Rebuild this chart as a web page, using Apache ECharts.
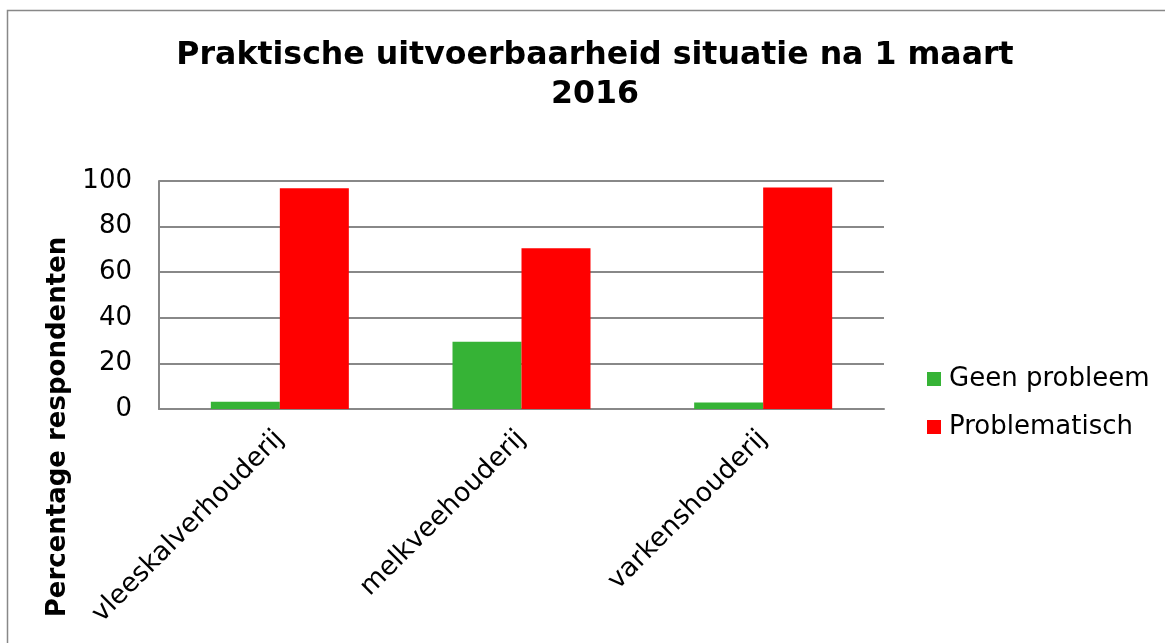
<!DOCTYPE html>
<html lang="nl">
<head>
    <meta charset="utf-8">
    <title>Praktische uitvoerbaarheid situatie na 1 maart 2016</title>
    <script src="https://cdn.jsdelivr.net/npm/echarts@6/dist/echarts.min.js"></script>
    <style>
        html, body { margin: 0; padding: 0; background: #fff; }
        #main { width: 1165px; height: 643px; }
    </style>
</head>
<body>
    <div id="main"></div>
    <script type="text/javascript">
        // data
        var categories = ['vleeskalverhouderij', 'melkveehouderij', 'varkenshouderij'];
        var geenProbleem = [3.2, 29.5, 2.9];
        var problematisch = [96.8, 70.5, 97.1];
        var seriesNames = ['Geen probleem', 'Problematisch'];

        var font = '"DejaVu Sans", Verdana, sans-serif';
        var myChart = echarts.init(document.getElementById('main'));

        myChart.setOption({
            animation: false,
            textStyle: { fontFamily: font },
            title: {
                text: 'Praktische uitvoerbaarheid situatie na 1 maart\n2016',
                left: 590,
                top: 31,
                textAlign: 'center',
                textStyle: {
                    fontFamily: font,
                    fontSize: 31.6,
                    fontWeight: 'bold',
                    color: '#000',
                    lineHeight: 39
                }
            },
            graphic: [{
                type: 'rect',
                shape: { x: 7.5, y: 10.5, width: 1180, height: 660 },
                style: { fill: 'none', stroke: '#888', lineWidth: 1.5 },
                silent: true
            }],
            legend: {
                orient: 'vertical',
                left: 927,
                top: 366,
                padding: 0,
                itemWidth: 14,
                itemHeight: 14,
                itemGap: 22,
                icon: 'rect',
                data: seriesNames,
                textStyle: { fontFamily: font, fontSize: 26, color: '#000', padding: [0, 0, 0, 3] }
            },
            grid: { left: 159, right: 281, top: 181, bottom: 234, containLabel: false },
            xAxis: {
                type: 'category',
                data: categories,
                axisLine: { lineStyle: { color: '#888', width: 2 } },
                axisTick: { show: false },
                axisLabel: {
                    rotate: 45,
                    margin: 26,
                    fontFamily: font,
                    fontSize: 26.5,
                    color: '#000'
                }
            },
            yAxis: {
                type: 'value',
                min: 0,
                max: 100,
                interval: 20,
                name: 'Percentage respondenten',
                nameLocation: 'middle',
                nameGap: 78,
                nameTextStyle: {
                    fontFamily: font,
                    fontSize: 26,
                    fontWeight: 'bold',
                    color: '#000',
                    padding: [0, 264, 0, 0]
                },
                axisLine: { show: true, lineStyle: { color: '#888', width: 2 } },
                axisTick: { show: false },
                axisLabel: { margin: 27, fontFamily: font, fontSize: 26, color: '#000' },
                splitLine: { lineStyle: { color: '#888', width: 2 } }
            },
            series: [{
                name: seriesNames[0],
                type: 'bar',
                data: geenProbleem,
                barWidth: 69,
                barGap: '0%',
                itemStyle: { color: '#36b336' }
            }, {
                name: seriesNames[1],
                type: 'bar',
                data: problematisch,
                barWidth: 69,
                barGap: '0%',
                itemStyle: { color: '#ff0000' }
            }]
        });
    </script>
</body>
</html>
